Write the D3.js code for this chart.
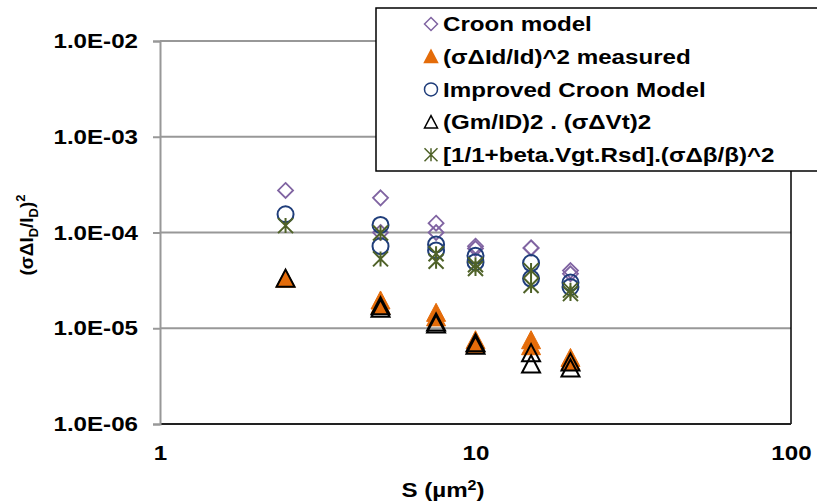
<!DOCTYPE html>
<html>
<head>
<meta charset="utf-8">
<script src="https://cdn.jsdelivr.net/npm/d3@7"></script>
<style>
  body { margin: 0; background: #fff; }
  svg { font-family: "Liberation Sans", Arial, sans-serif; font-weight: bold; }
</style>
</head>
<body>
<div id="chart"></div>
<script>
'use strict';

// area S (um^2) of each device, one entry per point
var areas = [2.5, 5, 5, 7.5, 7.5, 10, 10, 15, 15, 20, 20];

var croonModel = [2.75e-4, 2.3e-4, 1.0e-4, 1.25e-4, 1.0e-4, 7.2e-5, 6.8e-5, 6.9e-5, 6.9e-5, 4.0e-5, 3.7e-5];
var measured = [3.3e-5, 1.95e-5, 1.75e-5, 1.45e-5, 1.3e-5, 7.5e-6, 6.8e-6, 7.5e-6, 6.5e-6, 4.9e-6, 4.5e-6];
var improvedCroon = [1.55e-4, 1.2e-4, 7.2e-5, 7.5e-5, 6.5e-5, 5.7e-5, 4.9e-5, 4.8e-5, 3.3e-5, 3.0e-5, 2.7e-5];
var gmIdVt = [3.3e-5, 1.7e-5, 1.6e-5, 1.15e-5, 1.1e-5, 7.0e-6, 6.6e-6, 5.5e-6, 4.2e-6, 4.4e-6, 3.8e-6];
var betaTerm = [1.18e-4, 9.9e-5, 5.3e-5, 6.0e-5, 5.0e-5, 4.6e-5, 4.2e-5, 4.0e-5, 2.8e-5, 2.5e-5, 2.3e-5];

var seriesNames = [
  'Croon model',
  '(σΔId/Id)^2 measured',
  'Improved Croon Model',
  '(Gm/ID)2 . (σΔVt)2',
  '[1/1+beta.Vgt.Rsd].(σΔβ/β)^2'
];

var yTicks = [1e-6, 1e-5, 1e-4, 1e-3, 1e-2];
var xTicks = [1, 10, 100];

// the original export is stretched a bit horizontally
var stretch = 1.15;

// custom excel-like marker shapes, size = width in px
var diamond = {
  draw: function(ctx, s) {
    var r = s / 2;
    ctx.moveTo(0, -r); ctx.lineTo(r, 0); ctx.lineTo(0, r); ctx.lineTo(-r, 0); ctx.closePath();
  }
};
var triangle = {
  draw: function(ctx, s) {
    var r = s / 2;
    ctx.moveTo(0, -r); ctx.lineTo(r, r * 0.9); ctx.lineTo(-r, r * 0.9); ctx.closePath();
  }
};
var circle = {
  draw: function(ctx, s) {
    var r = s / 2;
    ctx.moveTo(r, 0); ctx.arc(0, 0, r, 0, 2 * Math.PI);
  }
};
var star = {
  draw: function(ctx, s) {
    var r = s / 2;
    ctx.moveTo(-r, -r); ctx.lineTo(r, r);
    ctx.moveTo(r, -r); ctx.lineTo(-r, r);
    ctx.moveTo(0, -r); ctx.lineTo(0, r);
  }
};

var styles = [
  {shape: diamond, size: 15, fill: 'none', stroke: '#8064A2', sw: 1.8},
  {shape: triangle, size: 19, fill: '#E46C0A', stroke: '#E46C0A', sw: 1},
  {shape: circle, size: 16, fill: 'none', stroke: '#1F3D7A', sw: 2},
  {shape: triangle, size: 18, fill: 'none', stroke: '#000', sw: 2},
  {shape: star, size: 15, fill: 'none', stroke: '#4F6228', sw: 2}
];

function makeChart(containerSelector) {
  var width = 817;
  var height = 502;
  var plot = {left: 160, right: 791, top: 41, bottom: 424};

  var svg = d3.select(containerSelector)
              .append('svg')
              .attr('width', width)
              .attr('height', height);

  var x = d3.scaleLog().domain([1, 100]).range([plot.left, plot.right]);
  var y = d3.scaleLog().domain([1e-6, 1e-2]).range([plot.bottom, plot.top]);

  // gridlines
  svg.append('g')
     .selectAll('line')
     .data(yTicks.slice(1))
     .enter().append('line')
       .attr('x1', plot.left)
       .attr('x2', plot.right)
       .attr('y1', function(d) { return y(d); })
       .attr('y2', function(d) { return y(d); })
       .attr('stroke', '#989898')
       .attr('stroke-width', 2);

  // right border + bottom axis line
  svg.append('line')
     .attr('x1', plot.right).attr('x2', plot.right)
     .attr('y1', plot.top).attr('y2', plot.bottom)
     .attr('stroke', '#000').attr('stroke-width', 1.5);

  svg.append('line')
     .attr('x1', plot.left).attr('x2', plot.right)
     .attr('y1', plot.bottom).attr('y2', plot.bottom)
     .attr('stroke', '#222').attr('stroke-width', 2);

  // y axis
  var yAxis = d3.axisLeft(y)
                .tickValues(yTicks)
                .tickSize(7)
                .tickPadding(15)
                .tickFormat(function(d) { return d.toExponential(1).toUpperCase().replace(/E-(\d)$/, 'E-0$1'); });

  var gy = svg.append('g')
              .attr('transform', 'translate(' + plot.left + ',0)')
              .call(yAxis);
  gy.select('.domain').attr('stroke', '#989898').attr('stroke-width', 2);
  gy.selectAll('.tick line').attr('stroke', '#989898').attr('stroke-width', 2);
  gy.selectAll('.tick text')
    .attr('fill', '#000')
    .attr('x', -22 / stretch)
    .attr('transform', 'scale(' + stretch + ',1)')
    .style('font-size', '21px')
    .style('font-family', '"Liberation Sans", Arial, sans-serif')
    .style('font-weight', 'bold');

  // x axis (labels only)
  var xAxis = d3.axisBottom(x)
                .tickValues(xTicks)
                .tickSize(0)
                .tickPadding(21)
                .tickFormat(d3.format('d'));

  var gx = svg.append('g')
              .attr('transform', 'translate(0,' + plot.bottom + ')')
              .call(xAxis);
  gx.select('.domain').remove();
  gx.selectAll('.tick text')
    .attr('fill', '#000')
    .attr('transform', 'scale(' + stretch + ',1)')
    .style('font-size', '21px')
    .style('font-family', '"Liberation Sans", Arial, sans-serif')
    .style('font-weight', 'bold');

  // axis titles
  var xt = svg.append('text')
              .attr('transform', 'translate(443,497) scale(' + stretch + ',1)')
              .attr('text-anchor', 'middle')
              .style('font-size', '21px');
  xt.append('tspan').text('S (µm');
  xt.append('tspan').attr('dy', -7).style('font-size', '14px').text('2');
  xt.append('tspan').attr('dy', 7).text(')');

  var yt = svg.append('text')
              .attr('transform', 'translate(33,' + 235 + ') rotate(-90)')
              .attr('text-anchor', 'middle')
              .style('font-size', '19px');
  yt.append('tspan').text('(σΔI');
  yt.append('tspan').attr('dy', 5).style('font-size', '13px').text('D');
  yt.append('tspan').attr('dy', -5).text('/I');
  yt.append('tspan').attr('dy', 5).style('font-size', '13px').text('D');
  yt.append('tspan').attr('dy', -5).text(')');
  yt.append('tspan').attr('dy', -8).style('font-size', '13px').text('2');

  // data points
  var allSeries = [croonModel, measured, improvedCroon, gmIdVt, betaTerm];
  allSeries.forEach(function(values, i) {
    var st = styles[i];
    var sym = d3.symbol().type(st.shape).size(st.size);
    svg.append('g')
       .attr('class', 'series series-' + i)
       .selectAll('path')
       .data(values.map(function(v, j) { return {s: areas[j], v: v}; }))
       .enter().append('path')
         .attr('transform', function(d) { return 'translate(' + x(d.s) + ',' + y(d.v) + ')'; })
         .attr('d', sym)
         .attr('fill', st.fill)
         .attr('stroke', st.stroke)
         .attr('stroke-width', st.sw);
  });

  // legend
  var lg = svg.append('g').attr('transform', 'translate(376,8)');
  lg.append('rect')
    .attr('width', 460)
    .attr('height', 163)
    .attr('fill', '#fff')
    .attr('stroke', '#000')
    .attr('stroke-width', 1.5);

  var item = lg.selectAll('.legend')
               .data(seriesNames)
               .enter().append('g')
                 .attr('class', 'legend')
                 .attr('transform', function(d, i) { return 'translate(0,' + (16 + i * 32.7) + ')'; });

  item.append('path')
      .attr('transform', 'translate(55,0)')
      .attr('d', function(d, i) { return d3.symbol().type(styles[i].shape).size(13)(); })
      .attr('fill', function(d, i) { return styles[i].fill; })
      .attr('stroke', function(d, i) { return styles[i].stroke; })
      .attr('stroke-width', 1.5);

  item.append('text')
      .attr('transform', 'translate(67,0) scale(' + stretch + ',1)')
      .attr('dy', '0.35em')
      .style('font-size', '21px')
      .text(function(d) { return d; });
}

makeChart('#chart');
</script>
</body>
</html>
